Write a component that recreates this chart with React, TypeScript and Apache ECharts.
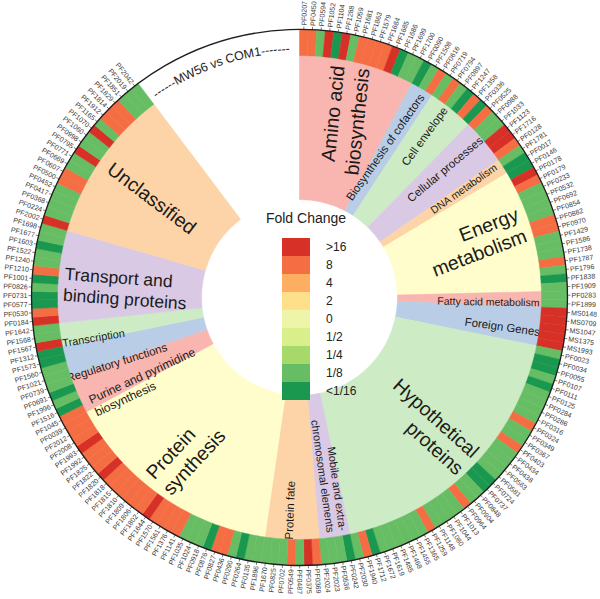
import React, { useEffect, useRef } from 'react';
import * as echarts from 'echarts';

// ---------------- data ----------------
const geneIds: string[] = [
  'PF0207', 'PF0450', 'PF0594', 'PF1052', 'PF1104', 'PF1288', 'PF1059', 'PF1681', 'PF1863', 'PF1579',
  'PF1684', 'PF1685', 'PF1686', 'PF1699', 'PF1700', 'PF0090', 'PF1508', 'PF0616', 'PF0719', 'PF0794',
  'PF0897', 'PF1247', 'PF1358', 'PF0336', 'PF0525', 'PF0988', 'PF1033', 'PF1123', 'PF1716', 'PF0128',
  'PF1781', 'PF0017', 'PF0146', 'PF0178', 'PF0179', 'PF0233', 'PF0532', 'PF0692', 'PF0854', 'PF0882',
  'PF0970', 'PF1429', 'PF1586', 'PF1738', 'PF1787', 'PF1796', 'PF1838', 'PF1909', 'PF0283', 'PF1899',
  'MS0148', 'MS0709', 'MS1047', 'MS1375', 'MS1993', 'PF0023', 'PF0034', 'PF0055', 'PF0107', 'PF0111',
  'PF0125', 'PF0284', 'PF0286', 'PF0316', 'PF0324', 'PF0349', 'PF0367', 'PF0403', 'PF0434', 'PF0438',
  'PF0563', 'PF0581', 'PF0724', 'PF0737', 'PF0848', 'PF0904', 'PF0964', 'PF1013', 'PF1044', 'PF1080',
  'PF1148', 'PF1259', 'PF1365', 'PF1455', 'PF1468', 'PF1485', 'PF1619', 'PF1672', 'PF1712', 'PF1940',
  'PF2030', 'PF0242', 'PF0536', 'PF2023', 'PF2024', 'PF0369', 'PF0375', 'PF0487', 'PF0549', 'PF0702',
  'PF0825', 'PF1670', 'PF1896', 'PF0135', 'PF0264', 'PF0290', 'PF0436', 'PF0827', 'PF0876', 'PF0918',
  'PF1024', 'PF1035', 'PF1141', 'PF1376', 'PF1561', 'PF1570', 'PF1644', 'PF1802', 'PF1806', 'PF1809',
  'PF1810', 'PF1815', 'PF1818', 'PF1820', 'PF1822', 'PF1825', 'PF1992', 'PF1993', 'PF2008', 'PF2012',
  'PF0039', 'PF1045', 'PF1516', 'PF1996', 'PF0691', 'PF0739', 'PF1021', 'PF1560', 'PF1573', 'PF1312',
  'PF1567', 'PF1568', 'PF1642', 'PF0184', 'PF0530', 'PF0577', 'PF0731', 'PF0826', 'PF1001', 'PF1210',
  'PF1240', 'PF1522', 'PF1603', 'PF1677', 'PF1698', 'PF2002', 'PF0224', 'PF0368', 'PF0417', 'PF0452',
  'PF0500', 'PF0607', 'PF0669', 'PF0771', 'PF0795', 'PF0998', 'PF1060', 'PF1070', 'PF1165', 'PF1912',
  'PF1814', 'PF1829', 'PF1851', 'PF2019', 'PF2042',
];

const log2FoldChange: number[] = [
  // Amino acid biosynthesis
  3, 3, -3, 5, -5, 5, -3, 3, 3, 3, 3, 5, -5, -3, -3,
  // Biosynthesis of cofactors
  -5, -3, 3,
  // Cell envelope
  -3, 3, -3, -5, 3, -5,
  // Cellular processes
  3, -3, -3, 5, 5, 3,
  // DNA metabolism
  -3, -5,
  // Energy metabolism
  -5, 5, 3, -3, -3, -3, -3, 3, 3, -3, -3, -3, 3, -3, -5, -3,
  // Fatty acid metabolism
  -3, -3,
  // Foreign Genes
  5, 5, 5, 5, 5,
  // Hypothetical proteins
  -3, -5, -5, -3, -5, -3, -3, -3, -3, 3, -3, -3, 3, -3, -3, -3, -3, -5,
  -5, -3, -3, 3, -3, -3, -3, -3, 3, -3, -3, -3, -3, -3, -3, -5, 3, -3,
  // Mobile and extra-chromosomal elements
  -5, -3, -3, -3,
  // Protein fate
  3, 5, -3, 3, -3, -3, -3,
  // Protein synthesis
  -3, -3, -5, -3, 3, 3, -5, -3, -3, -3, 3, 3, 3, 3, 5, 3, 3, 3, 3, 3, 3, 5, 3, 3, 3, 5, 3, 3, 3,
  // Purine and pyrimidine biosynthesis
  3, -5, -3, -5, -3,
  // Regulatory functions
  -3, -3, -5, -5,
  // Transcription
  5, -3, -3,
  // Transport and binding proteins
  5, 3, -5, -5, -3, -5, 3, -3, -3, -5, -3, -3,
  // Unclassified
  5, -3, -3, -3, -3, 3, 3, -3, -3, 5, -3, -3, 5, -3, 3, 3, 3, -3, -3, -3,
];

const categoryNames: string[] = [
  'Amino acid\nbiosynthesis',
  'Biosynthesis of cofactors',
  'Cell envelope',
  'Cellular processes',
  'DNA metabolism',
  'Energy\nmetabolism',
  'Fatty acid metabolism',
  'Foreign Genes',
  'Hypothetical\nproteins',
  'Mobile and extra-\nchromosomal elements',
  'Protein fate',
  'Protein\nsynthesis',
  'Purine and pyrimidine\nbiosynthesis',
  'Regulatory functions',
  'Transcription',
  'Transport and\nbinding proteins',
  'Unclassified',
];
const categoryGeneCounts: number[] = [15, 3, 6, 6, 2, 16, 2, 5, 36, 4, 7, 29, 5, 4, 3, 12, 20];

const legendTitle = 'Fold Change';
const legendLabels: string[] = ['>16', '8', '4', '2', '0', '1/2', '1/4', '1/8', '<1/16'];
// lower log2 bound of each legend class (upper bound = previous class's lower bound)
const legendLowerBounds: number[] = [4, 2.5, 1.5, 0.5, -0.5, -1.5, -2.5, -4, -Infinity];
const comparisonLabel = 'MW56 vs COM1';

// ---------------- styles / layout ----------------
const FONT = "'Liberation Sans', Arial, Helvetica, sans-serif";
const LEGEND_COLORS = ['#D73027', '#F46D43', '#FDAE61', '#FEE08B', '#EEF4A8', '#D9EF8B', '#A6D96A', '#66BD63', '#1A9850'];
const SECTOR_COLORS = ['#F9B5AF', '#B9CEE6', '#CDEBC5', '#D9C9E4', '#FDD4A7', '#FFFDCB'];
const SWEEP = 323; // degrees of the circle used by the ring
const R_INNER = 98;
const R_RING0 = 242;
const R_RING1 = 268;
const R_LABEL = 272;

type LabelLayout = { theta: number; r: number; rot: number; align: 'left' | 'right' | 'center'; size: number; lh: number };
const LABEL_LAYOUT: LabelLayout[] = [
  { theta: 12.4, r: 236, rot: 84, align: 'right', size: 19.5, lh: 25 },
  { theta: 29.7, r: 173, rot: 55, align: 'center', size: 11.5, lh: 14 },
  { theta: 37.8, r: 204, rot: 54, align: 'center', size: 11.5, lh: 14 },
  { theta: 48.6, r: 194, rot: 40, align: 'center', size: 11.5, lh: 14 },
  { theta: 56.4, r: 197, rot: 35, align: 'center', size: 10.5, lh: 13 },
  { theta: 71.7, r: 234, rot: 21, align: 'right', size: 19.5, lh: 23 },
  { theta: 91.2, r: 189, rot: -1, align: 'center', size: 10.5, lh: 13 },
  { theta: 98.2, r: 205, rot: -8, align: 'center', size: 11.5, lh: 14 },
  { theta: 134.3, r: 236, rot: -42, align: 'right', size: 19.5, lh: 23 },
  { theta: 170.9, r: 237, rot: -82, align: 'right', size: 11, lh: 12.5 },
  { theta: 182.6, r: 213, rot: 88, align: 'center', size: 11.5, lh: 14 },
  { theta: 217.3, r: 234, rot: 47, align: 'left', size: 19.5, lh: 23 },
  { theta: 242.2, r: 234, rot: 25, align: 'left', size: 12, lh: 14 },
  { theta: 250.4, r: 194, rot: 17.5, align: 'center', size: 11.5, lh: 14 },
  { theta: 258.9, r: 210, rot: 9.5, align: 'center', size: 11, lh: 13 },
  { theta: 273.2, r: 236, rot: -4, align: 'left', size: 17.5, lh: 21 },
  { theta: 304, r: 178, rot: -37, align: 'center', size: 19.5, lh: 23 },
];

const N = geneIds.length;
const ANGLE_MAX = (N * 360) / SWEEP;

function textWidth(s: string, size: number): number {
  const ctx = document.createElement('canvas').getContext('2d');
  if (!ctx) return s.length * size * 0.55;
  ctx.font = `${size}px ${FONT}`;
  return ctx.measureText(s).width;
}

function buildOption(): any {
  const starts: number[] = [];
  let acc = 0;
  categoryGeneCounts.forEach((c) => {
    starts.push(acc);
    acc += c;
  });
  const categoryData = categoryGeneCounts.map((c, i) => [starts[i], starts[i] + c]);
  const heatData = geneIds.map((_, k) => [k, log2FoldChange[k]]);

  const pieces = legendLabels.map((label, i) => {
    const p: any = { label, color: LEGEND_COLORS[i] };
    const lower = legendLowerBounds[i];
    if (isFinite(lower)) p.gt = lower;
    if (i > 0) p.lte = legendLowerBounds[i - 1];
    return p;
  });

  const categorySeries = {
    type: 'custom',
    coordinateSystem: 'polar',
    silent: true,
    z: 2,
    data: categoryData,
    renderItem: (params: any, api: any) => {
      const i = params.dataIndex;
      const cx = params.coordSys.cx;
      const cy = params.coordSys.cy;
      const a0 = api.coord([R_RING0, api.value(0)])[3];
      const a1 = api.coord([R_RING0, api.value(1)])[3];
      const col = SECTOR_COLORS[i % SECTOR_COLORS.length];
      const L = LABEL_LAYOUT[i];
      const p = api.coord([L.r, (L.theta * N) / SWEEP]);
      return {
        type: 'group',
        children: [
          {
            type: 'sector',
            shape: { cx, cy, r0: R_INNER, r: R_RING0, startAngle: -a0, endAngle: -a1, clockwise: true },
            style: { fill: col, stroke: col, lineWidth: 0.6 },
          },
          {
            type: 'text',
            x: p[0],
            y: p[1],
            rotation: (L.rot * Math.PI) / 180,
            z2: 20,
            style: {
              text: categoryNames[i],
              fontSize: L.size,
              fontFamily: FONT,
              fill: '#1a1a1a',
              align: L.align,
              verticalAlign: 'middle',
              lineHeight: L.lh,
            },
          },
        ],
      };
    },
  };

  const heatSeries = {
    type: 'custom',
    coordinateSystem: 'polar',
    silent: true,
    z: 3,
    data: heatData,
    renderItem: (params: any, api: any) => {
      const k = api.value(0);
      const cx = params.coordSys.cx;
      const cy = params.coordSys.cy;
      const color = api.visual('color');
      const a0 = api.coord([R_RING1, k])[3];
      const a1 = api.coord([R_RING1, k + 1])[3];
      const t0 = api.coord([R_RING1, k + 0.5]);
      const t1 = api.coord([R_RING1 + 3, k + 0.5]);
      const lp = api.coord([R_LABEL, k + 0.5]);
      const am = lp[3];
      let thetaCw = 90 - (am * 180) / Math.PI;
      thetaCw = ((thetaCw % 360) + 360) % 360;
      const right = thetaCw < 180;
      const rot = right ? am : am + Math.PI;
      return {
        type: 'group',
        children: [
          {
            type: 'sector',
            shape: { cx, cy, r0: R_RING0, r: R_RING1, startAngle: -a0, endAngle: -a1, clockwise: true },
            style: { fill: color, stroke: color, lineWidth: 0.5 },
          },
          {
            type: 'line',
            shape: { x1: t0[0], y1: t0[1], x2: t1[0], y2: t1[1] },
            style: { stroke: '#444', lineWidth: 0.7 },
          },
          {
            type: 'text',
            x: lp[0],
            y: lp[1],
            rotation: rot,
            style: {
              text: geneIds[k],
              fontSize: 7,
              fontFamily: FONT,
              fill: '#3a3a3a',
              align: right ? 'left' : 'right',
              verticalAlign: 'middle',
            },
          },
        ],
      };
    },
  };

  const frameSeries = {
    type: 'custom',
    coordinateSystem: 'polar',
    silent: true,
    z: 6,
    data: [[0, 0]],
    renderItem: (params: any) => {
      const cx = params.coordSys.cx;
      const cy = params.coordSys.cy;
      const r = params.coordSys.r;
      const children: any[] = [
        { type: 'circle', shape: { cx, cy, r }, style: { fill: 'none', stroke: '#1e1e1e', lineWidth: 1.3 } },
      ];
      const fontSize = 12.5;
      const str = '------' + comparisonLabel + '-------';
      const chars = str.split('');
      const widths = chars.map((ch) => textWidth(ch, fontSize));
      const total = widths.reduce((a, b) => a + b, 0);
      const R = 249;
      const centerTheta = (-19 * Math.PI) / 180;
      let cum = 0;
      const start = centerTheta - total / 2 / R;
      chars.forEach((ch, i) => {
        const th = start + (cum + widths[i] / 2) / R;
        cum += widths[i];
        children.push({
          type: 'text',
          x: cx + R * Math.sin(th),
          y: cy - R * Math.cos(th),
          rotation: -th,
          style: {
            text: ch,
            fontSize,
            fontFamily: FONT,
            fill: '#1e1e1e',
            align: 'center',
            verticalAlign: 'middle',
          },
        });
      });
      return { type: 'group', children };
    },
  };

  return {
    animation: false,
    backgroundColor: '#ffffff',
    polar: { center: [299.5, 297.5], radius: R_RING1 },
    angleAxis: {
      type: 'value',
      min: 0,
      max: ANGLE_MAX,
      startAngle: 90,
      clockwise: true,
      axisLine: { show: false },
      axisTick: { show: false },
      axisLabel: { show: false },
      splitLine: { show: false },
    },
    radiusAxis: {
      type: 'value',
      min: 0,
      max: R_RING1,
      axisLine: { show: false },
      axisTick: { show: false },
      axisLabel: { show: false },
      splitLine: { show: false },
    },
    visualMap: {
      type: 'piecewise',
      seriesIndex: 1,
      dimension: 1,
      pieces,
      orient: 'vertical',
      left: 267,
      top: 223,
      itemWidth: 28,
      itemHeight: 18,
      itemGap: 0,
      textGap: 16,
      itemSymbol: 'rect',
      align: 'left',
      selectedMode: false,
      hoverLink: false,
      textStyle: { fontSize: 12, color: '#222', fontFamily: FONT },
    },
    graphic: [
      {
        type: 'text',
        x: 306,
        y: 218,
        style: {
          text: legendTitle,
          fontSize: 14,
          fontFamily: FONT,
          fill: '#222',
          align: 'center',
          verticalAlign: 'middle',
        },
      },
    ],
    series: [categorySeries, heatSeries, frameSeries],
  };
}

export default function App() {
  const ref = useRef<HTMLDivElement>(null);
  useEffect(() => {
    if (!ref.current) return;
    const chart = echarts.init(ref.current, undefined, { renderer: 'svg' });
    chart.setOption(buildOption());
    return () => {
      chart.dispose();
    };
  }, []);
  return <div ref={ref} style={{ position: 'absolute', left: 0, top: 0, width: 600, height: 599 }} />;
}
